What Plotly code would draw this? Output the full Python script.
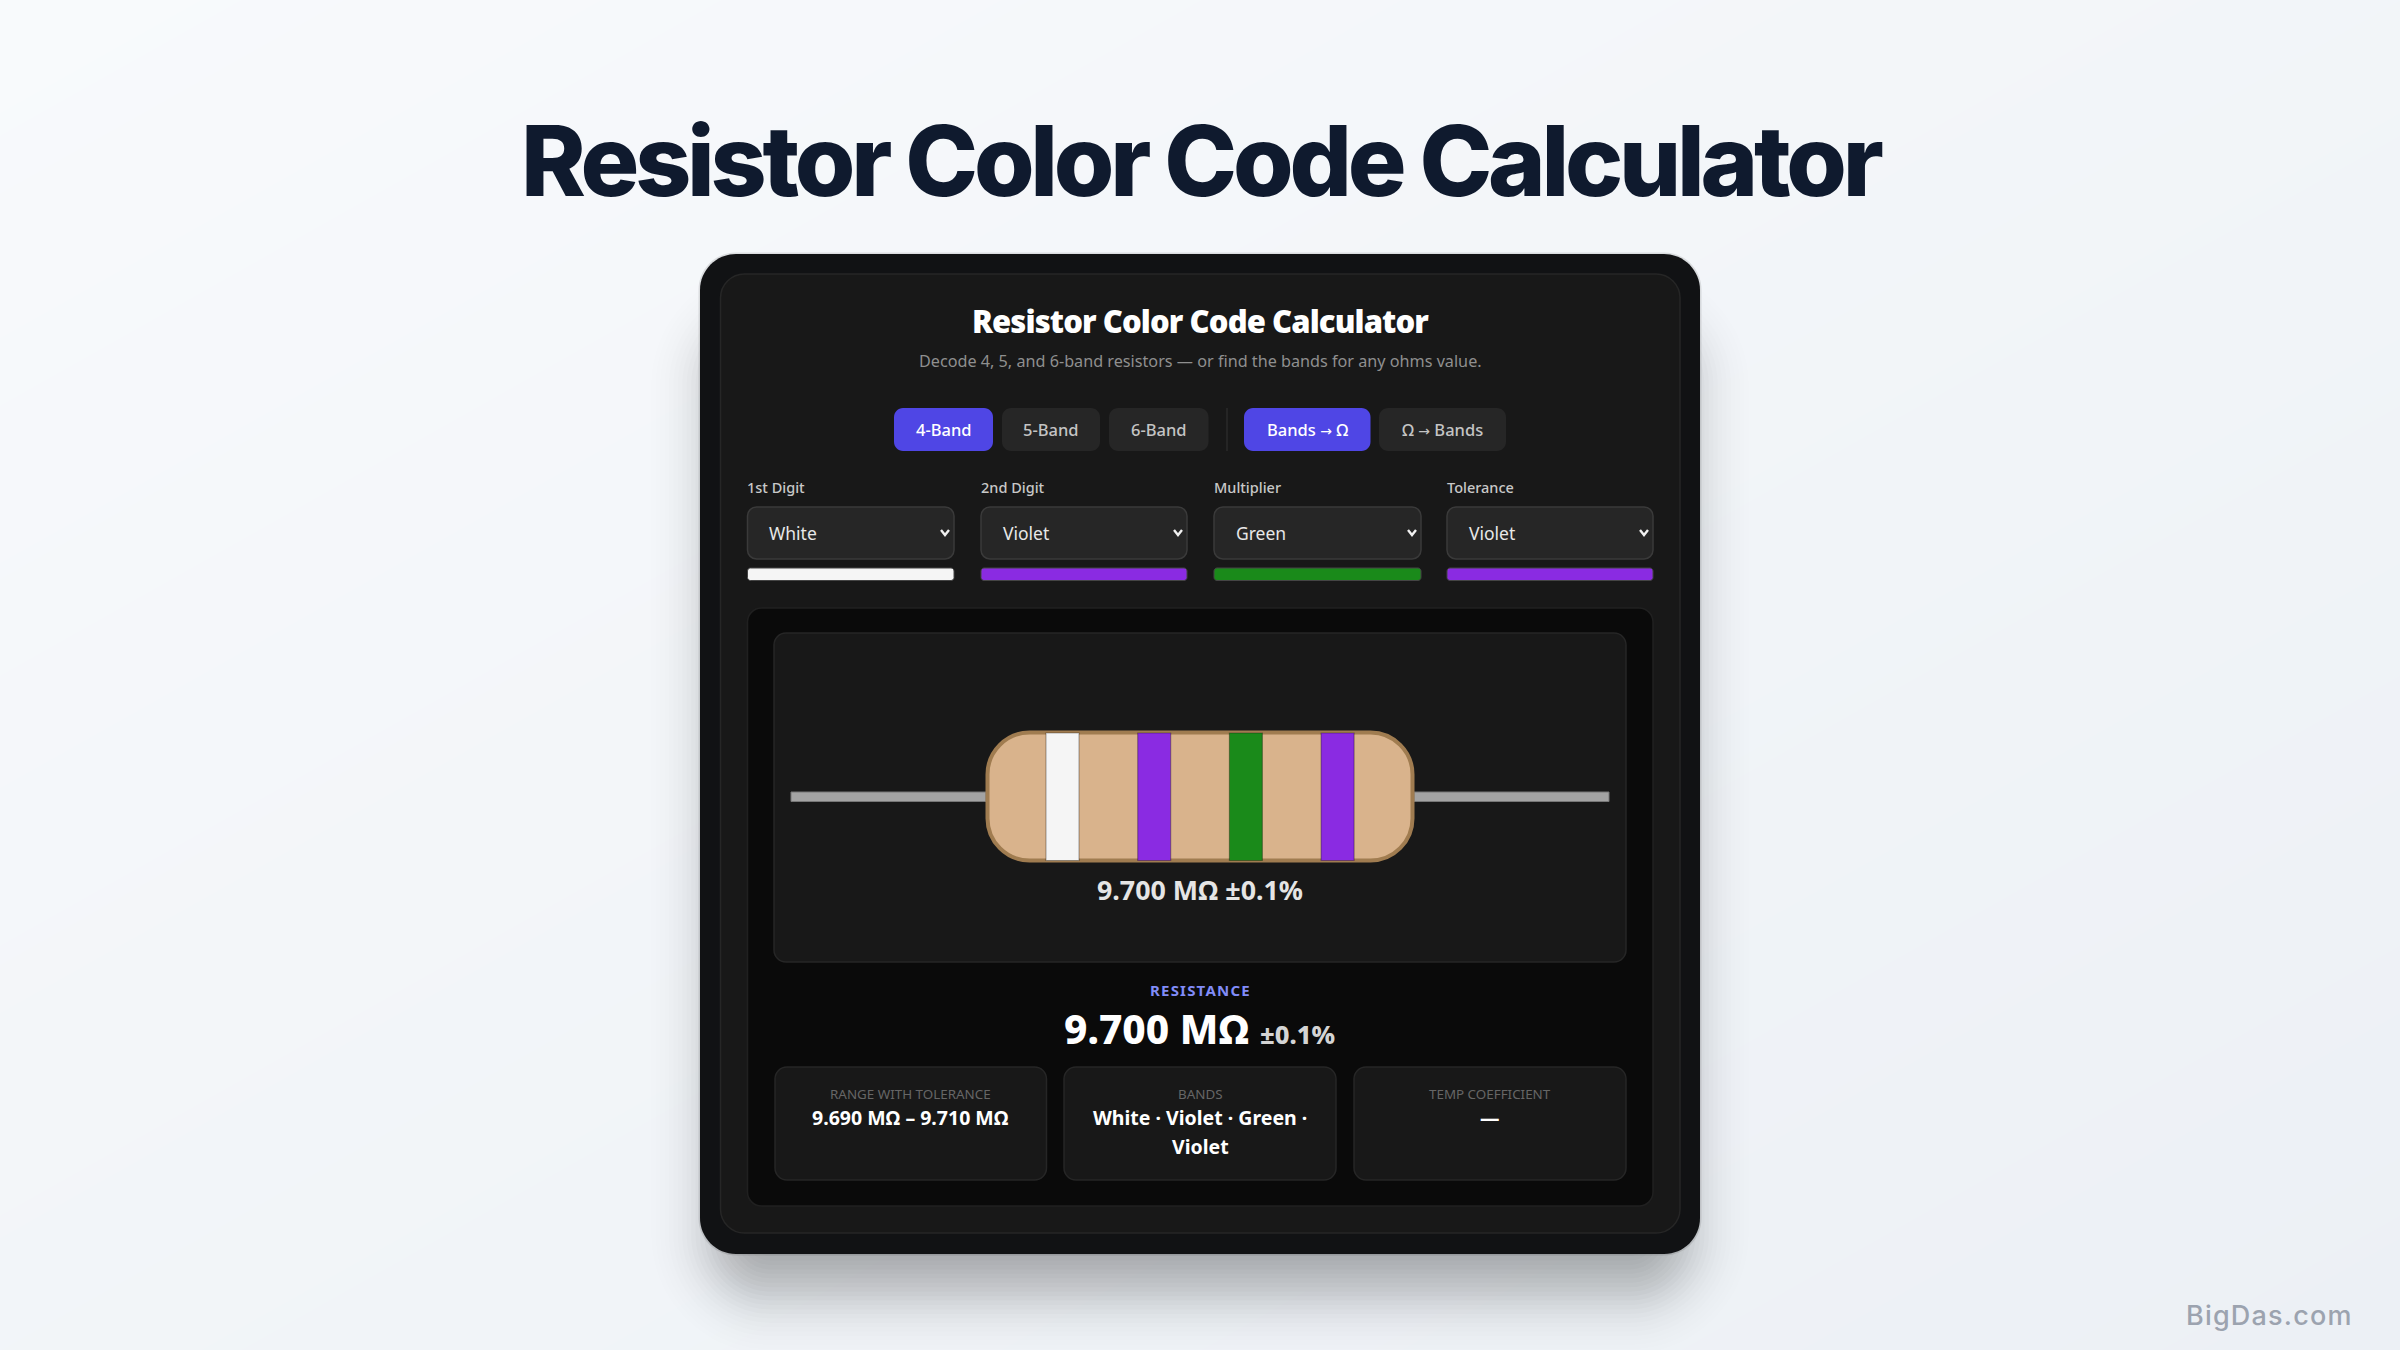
import math
import plotly.graph_objects as go

# Values
PAGE_TITLE = "Resistor Color Code Calculator"
SUBTITLE = "Decode 4, 5, and 6-band resistors — or find the bands for any ohms value."
BAND_MODES = ["4-Band", "5-Band", "6-Band"]
CONVERT_MODES = ["Bands → Ω", "Ω → Bands"]
SELECT_LABELS = ["1st Digit", "2nd Digit", "Multiplier", "Tolerance"]
BAND_NAMES = ["White", "Violet", "Green", "Violet"]
BAND_COLORS = ["#f5f5f5", "#8a2be2", "#1a8a1a", "#8a2be2"]
RESISTOR_LABEL = "9.700 MΩ ±0.1%"
RESULT_HEAD = "RESISTANCE"
RESULT_VALUE = "9.700 MΩ"
RESULT_TOL = "±0.1%"
INFO_LABELS = ["RANGE WITH TOLERANCE", "BANDS", "TEMP COEFFICIENT"]
INFO_VALUES = [["9.690 MΩ – 9.710 MΩ"], ["White · Violet · Green ·", "Violet"], ["—"]]
WATERMARK = "BigDas.com"

FONT = "Noto Sans"
shapes = []
notes = []


def rrect(x0, y0, x1, y1, r, fill, line=None, lw=1):
    k = r * 0.45  # control point distance for a round corner
    path = (f"M{x0+r},{y0} L{x1-r},{y0} C{x1-k},{y0} {x1},{y0+k} {x1},{y0+r} L{x1},{y1-r} "
            f"C{x1},{y1-k} {x1-k},{y1} {x1-r},{y1} L{x0+r},{y1} C{x0+k},{y1} {x0},{y1-k} {x0},{y1-r} "
            f"L{x0},{y0+r} C{x0},{y0+k} {x0+k},{y0} {x0+r},{y0} Z")
    shapes.append(dict(type="path", path=path, xref="x", yref="y", layer="above", fillcolor=fill,
                       line=dict(color=line or "rgba(0,0,0,0)", width=lw if line else 0)))


def rect(x0, y0, x1, y1, fill, line=None, lw=1):
    shapes.append(dict(type="rect", x0=x0, y0=y0, x1=x1, y1=y1, xref="x", yref="y", layer="above",
                       fillcolor=fill, line=dict(color=line or "rgba(0,0,0,0)", width=lw if line else 0)))


def label(x, y, text, size, color, weight=400, anchor="center", font=FONT, spacing=None):
    if spacing is not None:
        text = f'<span style="letter-spacing:{spacing}px">{text}</span>'
    notes.append(dict(x=x, y=y, xref="x", yref="y", text=text, showarrow=False, xanchor=anchor, yanchor="middle",
                      align="center", font=dict(family=font, size=size, color=color, weight=weight)))


# soft shadow under the card, stacked rounded rects standing in for a blur
SHADOW_SIGMA = 33
for i in range(36):
    e = 78 - i * (156 / 35)
    w = math.exp(-e * e / (2 * SHADOW_SIGMA ** 2)) / (SHADOW_SIGMA * math.sqrt(2 * math.pi)) * (156 / 35)
    rrect(720 - e, 335 - e, 1680 + e, 1285 + e, max(e + 50, 8), f"rgba(0,0,0,{0.38 * w:.4f})")
rrect(698.5, 252.5, 1701.5, 1255.5, 37, "rgba(0,0,0,0.1)")

# card
rrect(700, 254, 1700, 1254, 36, "#111214")
rrect(720.5, 274, 1680, 1233, 24, "#181818", "#262626", 1.5)

label(1202, 160, PAGE_TITLE, 98, "#0f1a2e", 800, font="Inter", spacing=-4.25)
label(1200, 321, PAGE_TITLE, 31, "#ffffff", 900, spacing=-0.9)
label(1200, 360.5, SUBTITLE, 16.2, "#8f8f8f")

# mode buttons
ARROW = '<span style="font-family:DejaVu Sans;font-size:14px">→</span>'
band_btn_x = [(894, 993), (1002, 1100), (1109, 1208.5)]
for i, (name, (x0, x1)) in enumerate(zip(BAND_MODES, band_btn_x)):
    rrect(x0, 408, x1, 451, 9, "#4f46e5" if i == 0 else "#262626")
    label((x0 + x1) / 2, 429.5, name, 16.5, "#ffffff" if i == 0 else "#c4c4c4", 500)
rect(1226.5, 408, 1227.5, 451, "#333333")
conv_btn_x = [(1244, 1370.5), (1379, 1506)]
for i, (name, (x0, x1)) in enumerate(zip(CONVERT_MODES, conv_btn_x)):
    rrect(x0, 408, x1, 451, 9, "#4f46e5" if i == 0 else "#262626")
    label((x0 + x1) / 2, 429.5, name.replace("→", ARROW), 16.5, "#ffffff" if i == 0 else "#c4c4c4", 500)

# selects and their colour strips
select_x = [(747.5, 954), (981, 1187), (1214, 1421), (1447, 1653)]
for lab, name, col, (x0, x1) in zip(SELECT_LABELS, BAND_NAMES, BAND_COLORS, select_x):
    label(x0 - 2.5, 486.5, lab, 14.5, "#c8c8c8", 500, anchor="left")
    rrect(x0, 507, x1, 559, 9, "#262626", "#3a3a3a", 1.5)
    label(x0 + 19.5, 533, name, 17.5, "#e8e8e8", anchor="left")
    shapes.append(dict(type="path", path=f"M{x1-13},530 L{x1-9},535 L{x1-5},530", xref="x", yref="y", layer="above",
                       line=dict(color="#f0f0f0", width=2.4)))
    rrect(x0, 568, x1, 580.5, 3, col, "#444444", 1)

# result panel
rrect(747.5, 608, 1653, 1206, 14, "#0a0a0a", "#202020", 1.5)
rrect(774, 633, 1626, 962, 12, "#181818", "#262626", 1.5)

# resistor: leads, body, bands
rect(791, 792, 986, 801.5, "#a3a3a3", "#777777", 1)
rect(1414, 792, 1609, 801.5, "#a3a3a3", "#777777", 1)
rrect(987.5, 732.5, 1412.5, 860.5, 42, "#d9b38c", "#a07c50", 4)
for i, col in enumerate(BAND_COLORS):
    bx = 1046 + i * 91.7
    rect(bx, 733, bx + 33, 860.5, col, "rgba(0,0,0,0.3)", 1.2)
label(1200, 889.5, RESISTOR_LABEL, 26.8, "#e5e5e5", 700)

label(1200, 989.5, RESULT_HEAD, 15, "#818cf8", 700, spacing=1.2)
label(1199.5, 1028, f'{RESULT_VALUE} <span style="font-size:25.5px;fill:#d4d4d4">{RESULT_TOL}</span>', 40.5, "#ffffff", 800)

# info cards
info_x = [(775, 1046.5), (1064, 1336), (1354, 1626)]
for lab, lines, (x0, x1) in zip(INFO_LABELS, INFO_VALUES, info_x):
    rrect(x0, 1067, x1, 1180, 12, "#181818", "#262626", 1.5)
    cx = (x0 + x1) / 2
    label(cx, 1094, lab, 13.4, "#666666")
    for j, line in enumerate(lines):
        label(cx, 1117 + j * 29.5, line, 19.5, "#ffffff", 700)

label(2269, 1315, WATERMARK, 27, "#9ca3af", 500, font="Inter", spacing=1.2)

# page background gradient
fig = go.Figure(go.Heatmap(x=[0, 2400], y=[0, 1350], z=[[0, 0.5], [0.5, 1]], zmin=0, zmax=1, zsmooth="best",
                           showscale=False, hoverinfo="skip",
                           colorscale=[[0, "#f8fafc"], [1, "#ecf0f5"]]))
fig.update_layout(width=2400, height=1350, margin=dict(l=0, r=0, t=0, b=0), shapes=shapes, annotations=notes,
                  paper_bgcolor="#f3f5f9", plot_bgcolor="#f3f5f9", showlegend=False,
                  xaxis=dict(range=[0, 2400], visible=False, fixedrange=True),
                  yaxis=dict(range=[1350, 0], visible=False, fixedrange=True))
fig.write_html("out.html", config={"displayModeBar": False},
               post_script="document.body.style.margin='0';document.body.style.overflow='hidden';")
